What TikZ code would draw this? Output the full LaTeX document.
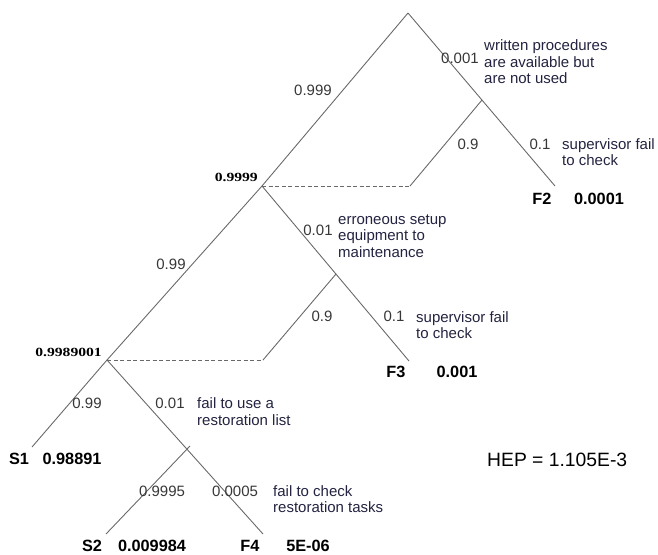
\documentclass[tikz,border=0pt]{standalone}
\usepackage{fontspec}
\usepackage{graphicx}
\setmainfont{Liberation Sans}
\newfontfamily\serifbold{Liberation Serif}[BoldFont={* Bold}]
\definecolor{linegray}{RGB}{105,105,105}
\definecolor{probgray}{RGB}{55,55,55}
\definecolor{desccol}{RGB}{35,35,65}
\begin{document}
\begin{tikzpicture}[x=1pt,y=-1pt,
  branch/.style={draw=linegray,line width=0.9pt},
  dashbranch/.style={draw=linegray,line width=0.9pt,dash pattern=on 4pt off 2.5pt},
  prob/.style={inner sep=0pt,text=probgray,font=\fontsize{15}{17}\selectfont},
  desc/.style={inner sep=0pt,anchor=west,align=left,text=desccol,font=\fontsize{15}{16.5}\selectfont},
  endlbl/.style={inner sep=0pt,text=black,font=\fontsize{16.3}{18}\selectfont\bfseries},
  nodeval/.style={inner sep=0pt,anchor=east,text=black,font=\fontsize{12.5}{14}\serifbold\bfseries},
  heplbl/.style={inner sep=0pt,anchor=west,text=black,font=\fontsize{19.3}{21}\selectfont}]
\useasboundingbox (0,0) rectangle (658,554);
% vertices
\coordinate (top) at (408,13);
\coordinate (n1) at (262,186);
\coordinate (f2end) at (555,186);
\coordinate (j1) at (482,100);
\coordinate (d1) at (410,186);
\coordinate (n2) at (107,360);
\coordinate (f3end) at (409,361);
\coordinate (j2) at (336,274);
\coordinate (d2) at (263,360);
\coordinate (s1end) at (32,447);
\coordinate (f4end) at (263,534);
\coordinate (j3) at (187,449);
\coordinate (j3x) at (190,446);
\coordinate (s2end) at (106,534);
% branches
\draw[branch] (top) -- (n1);
\draw[branch] (top) -- (f2end);
\draw[branch] (d1) -- (j1);
\draw[dashbranch] (n1) -- (d1);
\draw[branch] (n1) -- (n2);
\draw[branch] (n1) -- (f3end);
\draw[branch] (d2) -- (j2);
\draw[dashbranch] (n2) -- (d2);
\draw[branch] (n2) -- (s1end);
\draw[branch] (n2) -- (f4end);
\draw[branch] (s2end) -- (j3x);
% probabilities
\node[prob] (p1) at (313,90) {0.999};
\node[prob] (p2) at (460,58) {0.001};
\node[prob] (p3) at (468,144) {0.9};
\node[prob] (p4) at (540,144) {0.1};
\node[prob] (p5) at (318,230) {0.01};
\node[prob] (p6) at (171,264) {0.99};
\node[prob] (p7) at (322,316) {0.9};
\node[prob] (p8) at (394,316) {0.1};
\node[prob] (p9) at (87,403) {0.99};
\node[prob] (p10) at (170,403) {0.01};
\node[prob] (p11) at (162,491) {0.9995};
\node[prob] (p12) at (235,491) {0.0005};
% descriptions
\node[desc] (t1) at (484,62) {written procedures\\are available but\\are not used};
\node[desc] (t2) at (562,152) {supervisor fail\\to check};
\node[desc] (t3) at (338,236) {erroneous setup\\equipment to\\maintenance};
\node[desc] (t4) at (416,325) {supervisor fail\\to check};
\node[desc] (t5) at (197,411.5) {fail to use a\\restoration list};
\node[desc] (t6) at (273,499) {fail to check\\restoration tasks};
% node values
\node[nodeval] (v1) at (258,177) {\scalebox{1.25}[1]{0.9999}};
\node[nodeval] (v2) at (102,352) {\scalebox{1.25}[1]{0.9989001}};
% end labels
\node[endlbl] (e1) at (542,199) {F2};
\node[endlbl] (e1v) at (599,199) {0.0001};
\node[endlbl] (e2) at (396,372) {F3};
\node[endlbl] (e2v) at (457,372) {0.001};
\node[endlbl] (e3) at (19,459) {S1};
\node[endlbl] (e3v) at (72,459) {0.98891};
\node[endlbl] (e4) at (92,546) {S2};
\node[endlbl] (e4v) at (152,546) {0.009984};
\node[endlbl] (e5) at (250,546) {F4};
\node[endlbl] (e5v) at (308,546) {5E-06};
\node[heplbl] (hep) at (487,460) {HEP = 1.105E-3};
\end{tikzpicture}
\end{document}
